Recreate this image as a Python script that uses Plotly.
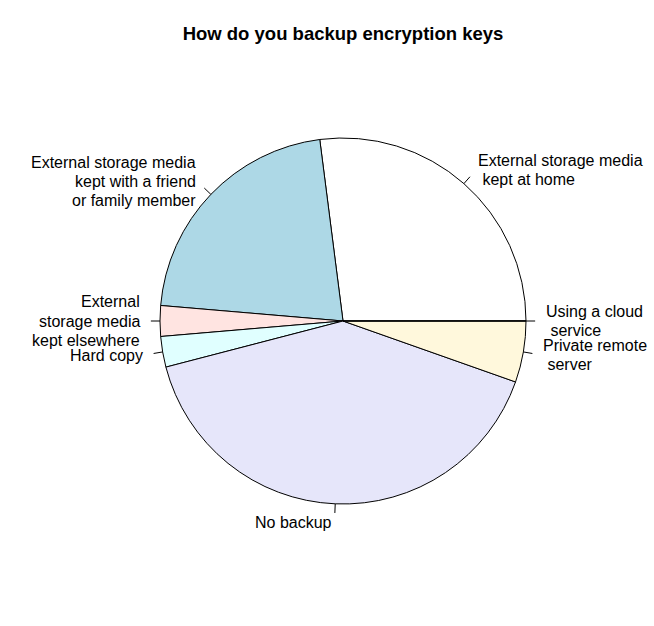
import math
import plotly.graph_objects as go

title = "How do you backup encryption keys"
labels = [
    "External storage media\n\u00a0kept at home",
    "External storage media\nkept with a friend\nor family member",
    "External\nstorage media\nkept elsewhere",
    "Hard copy",
    "No backup",
    "Private remote\n\u00a0server",
    "Using a cloud\n\u00a0service",
]
values = [30, 24, 3, 3, 45, 6, 0]
colors = ["white", "lightblue", "mistyrose", "lightcyan", "lavender", "cornsilk", "white"]

W, H = 654, 626
cx, cy, r = 343, 321, 183
FONT = "Liberation Sans, Arial, Helvetica"
FS = 16
LINE_H = 19.2

total = sum(values)
# Plotly counterclockwise: first slice ends at rotation; shift so it starts at 3 o'clock
rotation = 90 - 360 * values[0] / total

fig = go.Figure(go.Pie(
    labels=[l.replace("\n", " ").replace("\u00a0", "") for l in labels],
    values=values,
    sort=False,
    direction="counterclockwise",
    rotation=rotation,
    marker=dict(colors=colors, line=dict(color="black", width=1)),
    textinfo="none",
    hoverinfo="label+value",
    showlegend=False,
    domain=dict(x=[(cx - r) / W, (cx + r) / W], y=[(H - cy - r) / H, (H - cy + r) / H]),
))

cum = 0
shapes = []
annotations = []
for lab, v in zip(labels, values):
    mid = 2 * math.pi * (cum + v / 2) / total
    cum += v
    c, s = math.cos(mid), math.sin(mid)
    x1, y1 = cx + r * c, cy - r * s
    x2, y2 = cx + 1.05 * r * c, cy - 1.05 * r * s
    shapes.append(dict(type="line", xref="paper", yref="paper",
                       x0=x1 / W, y0=1 - y1 / H, x1=x2 / W, y1=1 - y2 / H,
                       line=dict(color="black", width=1)))
    lx, ly = cx + 1.1 * r * c, cy - 1.1 * r * s
    left = c >= 0
    lines = lab.split("\n")
    n = len(lines)
    for i, t in enumerate(lines):
        yy = ly + (i - (n - 1) / 2) * LINE_H
        annotations.append(dict(text=t, xref="paper", yref="paper",
                                x=lx / W, y=1 - yy / H,
                                xanchor="left" if left else "right", yanchor="middle",
                                align="left" if left else "right", showarrow=False,
                                font=dict(family=FONT, size=FS, color="black")))

fig.update_layout(
    width=W, height=H,
    margin=dict(l=0, r=0, t=0, b=0),
    paper_bgcolor="white", plot_bgcolor="white",
    title=dict(text="<b>" + title + "</b>", x=343 / W, xanchor="center", y=1 - 34 / H, yanchor="middle",
               font=dict(family=FONT, size=18.5, color="black")),
    shapes=shapes,
    annotations=annotations,
)

fig.write_html("out.html")
